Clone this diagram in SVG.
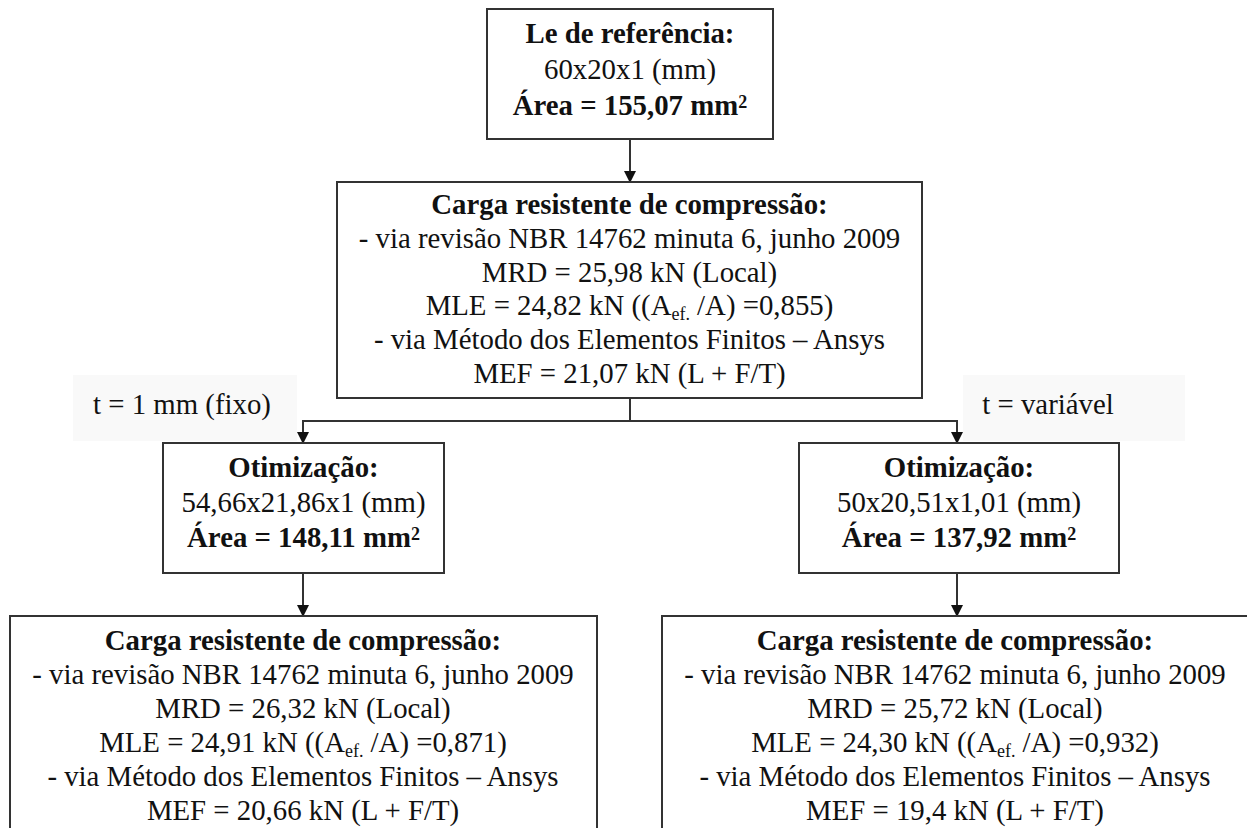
<svg xmlns="http://www.w3.org/2000/svg" width="1247" height="828" viewBox="0 0 1247 828">
<defs>
<style>
.box{fill:#fff;stroke:#333;stroke-width:2}
.t{font-family:"Liberation Serif","Times New Roman",serif;font-size:28.8px;fill:#111;text-anchor:middle}
.b{font-weight:bold}
.c{fill:none;stroke:#333;stroke-width:2}
.lbl{fill:#f9f9f9}
</style>
<marker id="ah" markerWidth="12" markerHeight="12" viewBox="0 0 12 12" refX="11" refY="6" orient="auto" markerUnits="userSpaceOnUse">
<path d="M0,0 L12,6 L0,12 Z" fill="#111"/>
</marker>
</defs>
<rect width="1247" height="828" fill="#fff"/>
<rect class="lbl" x="73" y="375" width="224" height="66"/>
<rect class="lbl" x="963" y="375" width="222" height="66"/>

<g id="connectors">
<line class="c" x1="630" y1="139" x2="630" y2="182" marker-end="url(#ah)"/>
<polyline class="c" points="630,398 630,421"/>
<polyline class="c" points="303,421 957,421"/>
<line class="c" x1="303" y1="420" x2="303" y2="443" marker-end="url(#ah)"/>
<line class="c" x1="957" y1="420" x2="957" y2="443" marker-end="url(#ah)"/>
<line class="c" x1="303" y1="573" x2="303" y2="616" marker-end="url(#ah)"/>
<line class="c" x1="957" y1="573" x2="957" y2="616" marker-end="url(#ah)"/>
</g>

<g id="label-fixo"><text class="t" x="182" y="414">t = 1 mm (fixo)</text></g>
<g id="label-variavel"><text class="t" x="1048" y="414">t = variável</text></g>

<g id="node-ref">
<rect class="box" x="487" y="9" width="286" height="130"/>
<text class="t b" x="630" y="43">Le de referência:</text>
<text class="t" x="630" y="79">60x20x1 (mm)</text>
<text class="t b" x="630" y="115">Área = 155,07 mm<tspan font-size="18" baseline-shift="40%">2</tspan></text>
</g>

<g id="node-carga-ref">
<rect class="box" x="337" y="182" width="585" height="216"/>
<text class="t b" x="629.5" y="214">Carga resistente de compressão:</text>
<text class="t" x="629.5" y="248">- via revisão NBR 14762 minuta 6, junho 2009</text>
<text class="t" x="629.5" y="282">MRD = 25,98 kN (Local)</text>
<text class="t" x="629.5" y="315">MLE = 24,82 kN ((A<tspan font-size="18" baseline-shift="-25%">ef.</tspan> /A) =0,855)</text>
<text class="t" x="629.5" y="349">- via Método dos Elementos Finitos – Ansys</text>
<text class="t" x="629.5" y="383">MEF = 21,07 kN (L + F/T)</text>
</g>

<g id="node-opt-fixo">
<rect class="box" x="163" y="443" width="281" height="130"/>
<text class="t b" x="303.5" y="477">Otimização:</text>
<text class="t" x="303.5" y="512">54,66x21,86x1 (mm)</text>
<text class="t b" x="303.5" y="547">Área = 148,11 mm<tspan font-size="18" baseline-shift="40%">2</tspan></text>
</g>

<g id="node-opt-var">
<rect class="box" x="799" y="443" width="320" height="130"/>
<text class="t b" x="959" y="477">Otimização:</text>
<text class="t" x="959" y="512">50x20,51x1,01 (mm)</text>
<text class="t b" x="959" y="547">Área = 137,92 mm<tspan font-size="18" baseline-shift="40%">2</tspan></text>
</g>

<g id="node-carga-fixo">
<rect class="box" x="10" y="616" width="587" height="230"/>
<text class="t b" x="303" y="650">Carga resistente de compressão:</text>
<text class="t" x="303" y="684">- via revisão NBR 14762 minuta 6, junho 2009</text>
<text class="t" x="303" y="718">MRD = 26,32 kN (Local)</text>
<text class="t" x="303" y="752">MLE = 24,91 kN ((A<tspan font-size="18" baseline-shift="-25%">ef.</tspan> /A) =0,871)</text>
<text class="t" x="303" y="786">- via Método dos Elementos Finitos – Ansys</text>
<text class="t" x="303" y="820">MEF = 20,66 kN (L + F/T)</text>
</g>

<g id="node-carga-var">
<rect class="box" x="662" y="616" width="600" height="230"/>
<text class="t b" x="955" y="650">Carga resistente de compressão:</text>
<text class="t" x="955" y="684">- via revisão NBR 14762 minuta 6, junho 2009</text>
<text class="t" x="955" y="718">MRD = 25,72 kN (Local)</text>
<text class="t" x="955" y="752">MLE = 24,30 kN ((A<tspan font-size="18" baseline-shift="-25%">ef.</tspan> /A) =0,932)</text>
<text class="t" x="955" y="786">- via Método dos Elementos Finitos – Ansys</text>
<text class="t" x="955" y="820">MEF = 19,4 kN (L + F/T)</text>
</g>
</svg>
